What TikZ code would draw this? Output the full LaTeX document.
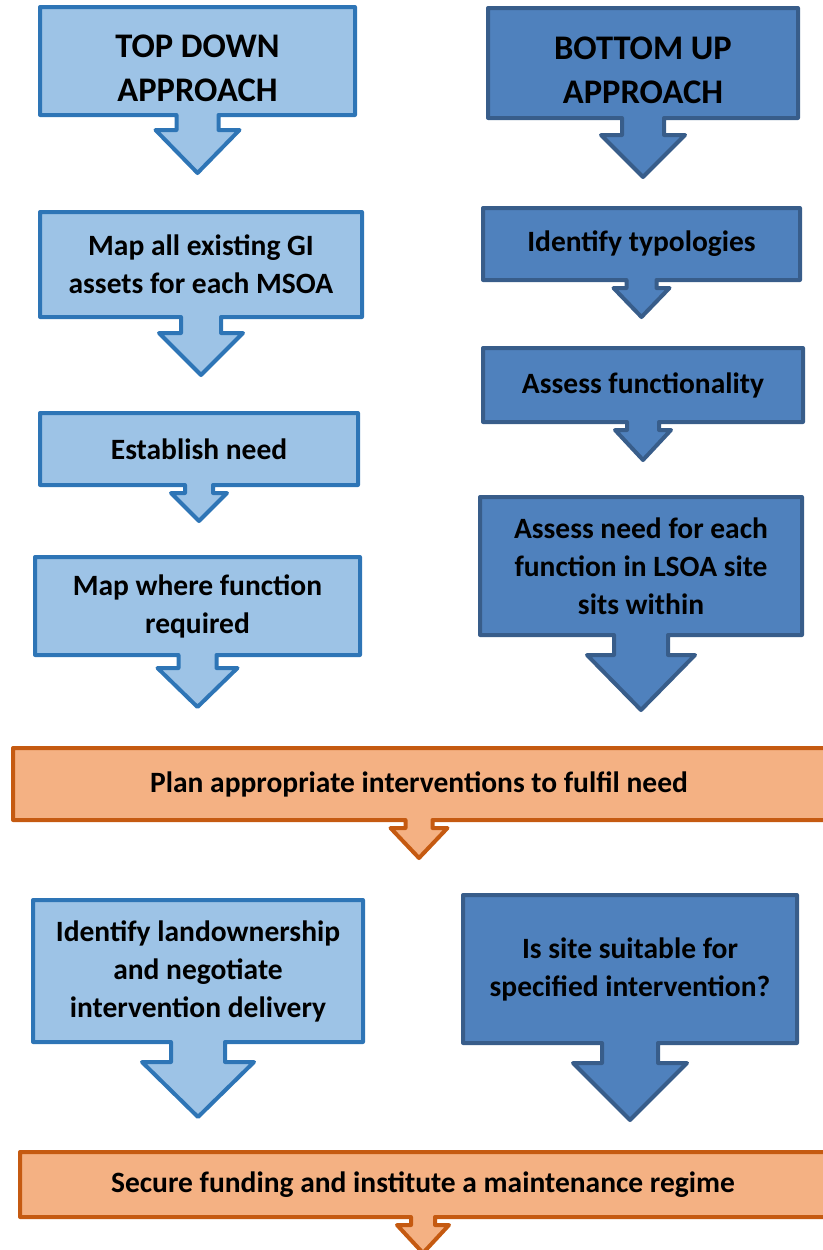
\documentclass[tikz,border=0pt]{standalone}
\usepackage{fontspec}
\setmainfont{Carlito}
\usepackage{tikz}
\usetikzlibrary{calc, backgrounds}
\definecolor{lightfill}{HTML}{9DC3E6}
\definecolor{lightline}{HTML}{2E75B6}
\definecolor{darkfill}{HTML}{4F81BD}
\definecolor{darkline}{HTML}{385D8A}
\definecolor{orangefill}{HTML}{F4B183}
\definecolor{orangeline}{HTML}{C55A11}
\tikzstyle{step box} = [rectangle, align=center, inner sep=0pt, outer sep=0pt, font=\bfseries\fontsize{29.5}{38}\selectfont]
\tikzstyle{head box} = [step box, text height=82pt, font=\bfseries\fontsize{34.5}{44}\selectfont]
\tikzstyle{lightarrow} = [draw=lightline, fill=lightfill, line width=4pt, line join=round]
\tikzstyle{darkarrow} = [draw=darkline, fill=darkfill, line width=4pt, line join=round]
\tikzstyle{orangearrow} = [draw=orangeline, fill=orangefill, line width=4pt, line join=round]
% box outline with the down arrow under it: node, stem half width, stem length, head half width, head length, style
\newcommand{\calloutarrow}[6]{%
\begin{scope}[on background layer]
\draw[#6] (#1.south west) -- (#1.north west) -- (#1.north east) -- (#1.south east)
  -- ($(#1.south)+(#2,0)$) -- ++(0,-#3) -- ++(#4-#2,0) -- ++(-#4,-#5) -- ++(-#4,#5)
  -- ++(#4-#2,0) -- ++(0,#3) -- cycle;
\end{scope}}

\begin{document}
\begin{tikzpicture}[x=1pt, y=1pt, node distance=0pt]
\useasboundingbox (0,0) rectangle (822,-1250);
  \node (topdown) [head box, minimum width=315pt, minimum height=108pt] at (197.5,-61) {TOP DOWN\\APPROACH};
  \node (mapall) [step box, minimum width=322pt, minimum height=105pt, below of=topdown, xshift=3.5pt, yshift=-203.5pt] {Map all existing GI\\assets for each MSOA};
  \node (establish) [step box, minimum width=318pt, minimum height=72pt, below of=mapall, xshift=-2pt, yshift=-184.5pt] {Establish need};
  \node (mapwhere) [step box, minimum width=325pt, minimum height=98pt, below of=establish, xshift=-1.5pt, yshift=-157pt] {Map where function\\required};
  \node (bottomup) [head box, minimum width=310pt, minimum height=110pt] at (643,-63) {BOTTOM UP\\APPROACH};
  \node (typologies) [step box, minimum width=317pt, minimum height=72pt, below of=bottomup, xshift=-1.5pt, yshift=-181pt] {Identify typologies};
  \node (functionality) [step box, minimum width=320pt, minimum height=74pt, below of=typologies, xshift=1.5pt, yshift=-141pt] {Assess functionality};
  \node (assessneed) [step box, minimum width=322pt, minimum height=138pt, below of=functionality, xshift=-2pt, yshift=-181pt] {Assess need for each\\function in LSOA site\\sits within};
  \node (plan) [step box, minimum width=812pt, minimum height=72pt] at (419,-784) {Plan appropriate interventions to fulfil need};
  \node (landowner) [step box, minimum width=330pt, minimum height=142pt] at (198,-971) {Identify landownership\\and negotiate\\intervention delivery};
  \node (suitable) [step box, minimum width=334pt, minimum height=148pt] at (630,-969) {Is site suitable for\\specified intervention?};
  \node (secure) [step box, minimum width=806pt, minimum height=65pt] at (423,-1184.5) {Secure funding and institute a maintenance regime};
\calloutarrow{topdown}{21}{15}{42}{43}{lightarrow}
\calloutarrow{mapall}{20}{16}{42}{42}{lightarrow}
\calloutarrow{establish}{14}{8}{28}{28}{lightarrow}
\calloutarrow{mapwhere}{19}{13}{40}{39}{lightarrow}
\calloutarrow{bottomup}{21}{17}{42}{42}{darkarrow}
\calloutarrow{typologies}{15}{8}{28}{29}{darkarrow}
\calloutarrow{functionality}{16}{8}{28}{30}{darkarrow}
\calloutarrow{assessneed}{27}{20}{54}{55}{darkarrow}
\calloutarrow{plan}{13.5}{8}{28.5}{30}{orangearrow}
\calloutarrow{landowner}{27}{20}{56}{55}{lightarrow}
\calloutarrow{suitable}{28}{20}{57}{57}{darkarrow}
\calloutarrow{secure}{12}{8}{26}{28}{orangearrow}
\end{tikzpicture}
\end{document}
